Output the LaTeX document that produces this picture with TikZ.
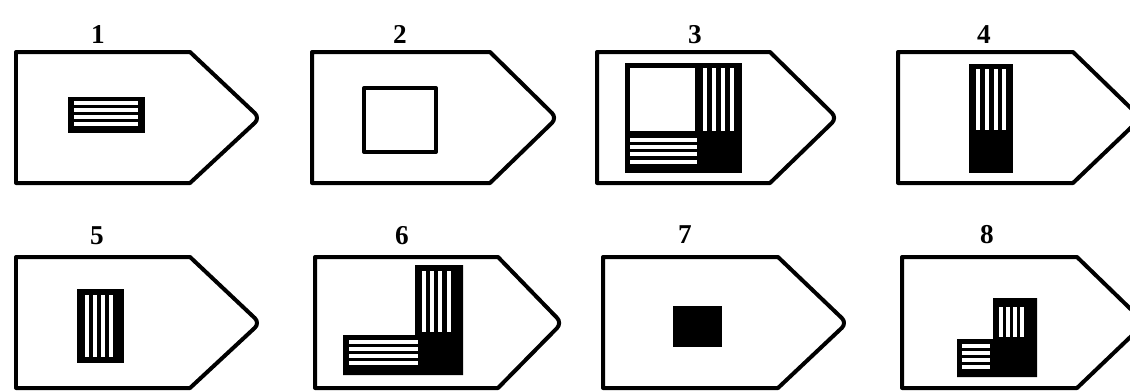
\documentclass[tikz,border=0pt]{standalone}
\usepackage{fontspec}
\setmainfont{Liberation Serif}
\usepackage{tikz}
\tikzset{outline/.style={line width=0.08cm,line join=round},stripe/.style={white,line width=0.065cm},num/.style={anchor=base,inner sep=0pt,font=\fontsize{15.5}{15.5}\selectfont\bfseries},every picture/.style={line cap=butt}}
\newcommand{\tagshape}[4]{\draw[outline] (#1,#4)--(#2,#4)[rounded corners=4pt]--(#3,#4+66)[sharp corners]--(#2,#4+131)--(#1,#4+131)--cycle;}

\begin{document}
\begin{tikzpicture}[x=0.02cm,y=-0.02cm]
\clip (0,0) rectangle (1130,392);
\fill[white] (0,0) rectangle (1130,392);
\tagshape{16}{190}{260}{52}
\tagshape{312}{490}{557}{52}
\tagshape{597}{770}{837}{52}
\tagshape{898}{1073}{1141}{52}
\tagshape{16}{190}{260}{257}
\tagshape{315}{498}{562}{257}
\tagshape{603}{778}{847}{257}
\tagshape{902}{1077}{1145}{257}
\node[num] (n1) at (98,43) {1};
\node[num] (n2) at (400,43) {2};
\node[num] (n3) at (695,43) {3};
\node[num] (n4) at (984,43) {4};
\node[num] (n5) at (97,244) {5};
\node[num] (n6) at (402,244) {6};
\node[num] (n7) at (685,243) {7};
\node[num] (n8) at (987,243) {8};
\fill (68,97) rectangle (145,133);
\foreach \y in {103,110,117,124} \draw[stripe] (74,\y)--(138,\y);
\draw[outline] (364,88) rectangle (436,152);
\fill (625,63) rectangle (742,173);
\fill[white] (630,68) rectangle (695,131);
\foreach \x in {705,714,723,732} \draw[stripe] (\x,68)--(\x,131);
\foreach \y in {140,147,154,162} \draw[stripe] (630,\y)--(697,\y);
\fill (969,64) rectangle (1013,173);
\foreach \x in {978,987,996,1004} \draw[stripe] (\x,69)--(\x,130);
\fill (77,289) rectangle (124,363);
\foreach \x in {87,95,103,111} \draw[stripe] (\x,295)--(\x,357);
\fill (415,265) rectangle (463,375) (343,335) rectangle (415,375);
\foreach \x in {424,432,440,449} \draw[stripe] (\x,271)--(\x,332);
\foreach \y in {342,349,356,363} \draw[stripe] (349,\y)--(418,\y);
\fill (673,306) rectangle (722,347);
\fill (993,298) rectangle (1037,377) (957,339) rectangle (993,377);
\foreach \x in {1001,1008,1015,1022} \draw[stripe] (\x,307)--(\x,337);
\foreach \y in {346,353,360,367} \draw[stripe] (962,\y)--(990,\y);
\end{tikzpicture}
\end{document}
